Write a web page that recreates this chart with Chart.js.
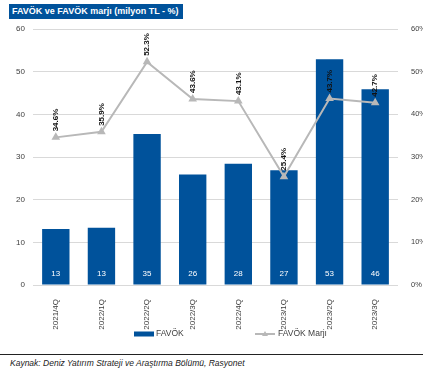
<!DOCTYPE html>
<html>
<head>
<meta charset="utf-8">
<script src="https://cdn.jsdelivr.net/npm/chart.js@4/dist/chart.umd.min.js"></script>
<style>
  html, body { margin: 0; padding: 0; background: #fff; }
  body { width: 423px; height: 371px; position: relative; overflow: hidden; font-family: "Liberation Sans", sans-serif; }
  #baslik {
    position: absolute; left: 9px; top: 4px; height: 15px;
    background: #00529b; color: #fff; font-weight: bold; font-size: 9px;
    line-height: 15px; padding: 0 4px 0 3px; white-space: nowrap;
  }
  #grafik { position: absolute; left: 0; top: 0; }
  #cizgi { position: absolute; left: 0; top: 354px; width: 423px; height: 1px; background: #222; }
  #kaynak { position: absolute; left: 10px; top: 358px; font-size: 8.5px; font-style: italic; color: #222; white-space: nowrap; }
</style>
</head>
<body>
<div id="baslik">FAVÖK ve FAVÖK marjı (milyon TL - %)</div>
<canvas id="grafik" width="423" height="350"></canvas>
<div id="cizgi"></div>
<div id="kaynak">Kaynak: Deniz Yatırım Strateji ve Araştırma Bölümü, Rasyonet</div>

<script>
/* ============================================================
   VERİ
============================================================ */
const donemler = ["2021/4Q", "2022/1Q", "2022/2Q", "2022/3Q", "2022/4Q", "2023/1Q", "2023/2Q", "2023/3Q"];
const favok = [13.1, 13.4, 35.4, 25.9, 28.4, 26.9, 52.9, 45.9];
const favokMarji = [34.6, 35.9, 52.3, 43.6, 43.1, 25.4, 43.7, 42.7];
const solEksen = [0, 10, 20, 30, 40, 50, 60];
const sagEksen = [0, 10, 20, 30, 40, 50, 60];

const MAVI = "#00529b";
const GRI = "#b8b8b8";
const YAZI = "#404040";

/* ============================================================
   ETİKETLER + LEJANT
============================================================ */
const etiketPlugin = {
    id: "etiketler",
    afterDatasetsDraw(chart) {
        const ctx = chart.ctx;
        const alt = chart.scales.y.getPixelForValue(0);

        // bar değerleri (beyaz, alt kısımda)
        const barMeta = chart.getDatasetMeta(0);
        ctx.save();
        ctx.fillStyle = "#fff";
        ctx.font = "8px 'Liberation Sans', sans-serif";
        ctx.textAlign = "center";
        ctx.textBaseline = "middle";
        barMeta.data.forEach((el, i) => {
            ctx.fillText(Math.round(favok[i]), el.x, alt - 11);
        });
        ctx.restore();

        // marj değerleri (dikey, noktanın üstünde)
        const lineMeta = chart.getDatasetMeta(1);
        ctx.save();
        ctx.fillStyle = "#111";
        ctx.font = "bold 8px 'Liberation Sans', sans-serif";
        ctx.textAlign = "left";
        ctx.textBaseline = "middle";
        lineMeta.data.forEach((el, i) => {
            ctx.save();
            ctx.translate(el.x, el.y - 6);
            ctx.rotate(-Math.PI / 2);
            ctx.fillText(favokMarji[i].toFixed(1) + "%", 0, 0);
            ctx.restore();
        });
        ctx.restore();
    },
    afterDraw(chart) {
        const ctx = chart.ctx;
        const y = 334;
        ctx.save();
        ctx.font = "8.5px 'Liberation Sans', sans-serif";
        ctx.textBaseline = "middle";

        ctx.fillStyle = MAVI;
        ctx.fillRect(134, y - 2.5, 20, 5);
        ctx.fillStyle = YAZI;
        ctx.fillText("FAVÖK", 156, y);

        ctx.strokeStyle = GRI;
        ctx.lineWidth = 2;
        ctx.beginPath();
        ctx.moveTo(255, y);
        ctx.lineTo(275, y);
        ctx.stroke();
        ctx.fillStyle = GRI;
        ctx.beginPath();
        ctx.moveTo(265, y - 3);
        ctx.lineTo(268, y + 2);
        ctx.lineTo(262, y + 2);
        ctx.closePath();
        ctx.fill();
        ctx.fillStyle = YAZI;
        ctx.fillText("FAVÖK Marjı", 278, y);
        ctx.restore();
    }
};

/* ============================================================
   GRAFİK
============================================================ */
new Chart(document.getElementById("grafik"), {
    type: "bar",
    data: {
        labels: donemler,
        datasets: [{
            label: "FAVÖK",
            data: favok,
            backgroundColor: MAVI,
            categoryPercentage: 1,
            barPercentage: 0.6,
            yAxisID: "y",
            order: 2
        }, {
            type: "line",
            label: "FAVÖK Marjı",
            data: favokMarji,
            borderColor: GRI,
            backgroundColor: GRI,
            borderWidth: 2,
            pointStyle: "triangle",
            pointRadius: 3,
            pointHoverRadius: 3,
            tension: 0,
            yAxisID: "y1",
            order: 1
        }]
    },
    options: {
        responsive: false,
        animation: false,
        layout: { padding: { top: 29, left: 0, right: 0, bottom: 0 } },
        plugins: {
            legend: { display: false },
            tooltip: { enabled: false }
        },
        scales: {
            x: {
                grid: { display: false },
                border: { display: false },
                ticks: {
                    color: YAZI,
                    font: { size: 8, family: "'Liberation Sans', sans-serif" },
                    minRotation: 90,
                    maxRotation: 90,
                    padding: 6
                },
                afterFit(s) { s.height = 65; }
            },
            y: {
                position: "left",
                min: solEksen[0],
                max: solEksen[solEksen.length - 1],
                afterBuildTicks(s) { s.ticks = solEksen.map(v => ({ value: v })); },
                grid: { color: "#d9d9d9", drawTicks: false },
                border: { display: false },
                ticks: {
                    color: YAZI,
                    font: { size: 8, family: "'Liberation Sans', sans-serif" },
                    padding: 8
                },
                afterFit(s) { s.width = 33; }
            },
            y1: {
                position: "right",
                min: sagEksen[0],
                max: sagEksen[sagEksen.length - 1],
                afterBuildTicks(s) { s.ticks = sagEksen.map(v => ({ value: v })); },
                grid: { display: false },
                border: { display: false },
                ticks: {
                    color: YAZI,
                    font: { size: 7.5, family: "'Liberation Sans', sans-serif" },
                    padding: 5,
                    callback: v => v + "%"
                },
                afterFit(s) { s.width = 25; }
            }
        }
    },
    plugins: [etiketPlugin]
});
</script>
</body>
</html>
